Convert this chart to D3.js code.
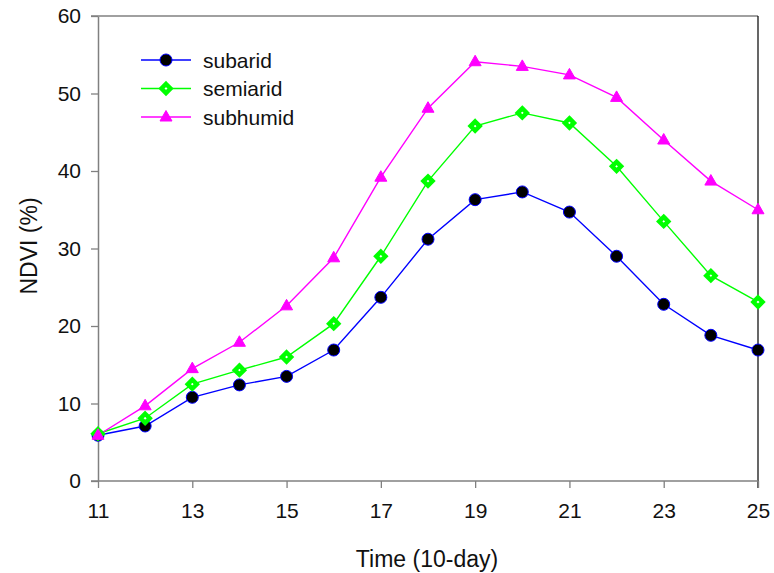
<!DOCTYPE html>
<html>
<head>
<meta charset="utf-8">
<script src="https://cdn.jsdelivr.net/npm/d3@7"></script>
<style>
  body { margin: 0; background: #fff; }
  text { font-family: "Liberation Sans", Arial, sans-serif; fill: #111; }
</style>
</head>
<body>
<div id="chart"></div>
<script>
var periods = [11, 12, 13, 14, 15, 16, 17, 18, 19, 20, 21, 22, 23, 24, 25];
var subarid = [5.9, 7.1, 10.8, 12.4, 13.5, 16.9, 23.7, 31.2, 36.3, 37.3, 34.7, 29.0, 22.8, 18.8, 16.9];
var semiarid = [6.1, 8.1, 12.5, 14.3, 16.0, 20.3, 29.0, 38.7, 45.8, 47.5, 46.2, 40.6, 33.5, 26.5, 23.1];
var subhumid = [5.9, 9.7, 14.5, 17.9, 22.6, 28.8, 39.2, 48.1, 54.1, 53.5, 52.4, 49.5, 44.0, 38.7, 35.0];
var xTicks = [11, 13, 15, 17, 19, 21, 23, 25];
var yTicks = [0, 10, 20, 30, 40, 50, 60];

var series = [
  {name: "subarid", values: subarid, color: "#0000ff", marker: "circle"},
  {name: "semiarid", values: semiarid, color: "#00ff00", marker: "diamond"},
  {name: "subhumid", values: subhumid, color: "#ff00ff", marker: "triangle"}
];

var width = 774, height = 573;
var margin = {top: 16, right: 16, bottom: 92, left: 98};
var chartWidth = width - margin.left - margin.right;
var chartHeight = height - margin.top - margin.bottom;

var svg = d3.select("#chart").append("svg")
    .attr("width", width)
    .attr("height", height)
  .append("g")
    .attr("transform", `translate(${margin.left}, ${margin.top})`);

var xScale = d3.scaleLinear().domain([11, 25]).range([0, chartWidth]);
var yScale = d3.scaleLinear().domain([0, 60]).range([chartHeight, 0]);

// frame: top gray, right black
svg.append("line")
    .attr("x1", -7).attr("x2", chartWidth).attr("y1", 0).attr("y2", 0)
    .attr("stroke", "#808080").attr("stroke-width", 1.5);
svg.append("line")
    .attr("x1", chartWidth).attr("x2", chartWidth).attr("y1", 0).attr("y2", chartHeight + 7)
    .attr("stroke", "#000").attr("stroke-width", 1.2);

var xAxis = d3.axisBottom(xScale).tickValues(xTicks).tickSize(7).tickSizeOuter(0).tickPadding(15);
var yAxis = d3.axisLeft(yScale).tickValues(yTicks).tickSize(7).tickSizeOuter(0).tickPadding(10);

var gx = svg.append("g")
    .attr("class", "x axis")
    .attr("transform", `translate(0,${chartHeight})`)
    .call(xAxis);
var gy = svg.append("g")
    .attr("class", "y axis")
    .call(yAxis);

[gx, gy].forEach(function(g) {
  g.select(".domain").attr("stroke", "#808080").attr("stroke-width", 1.5);
  g.selectAll(".tick line").attr("stroke", "#808080").attr("stroke-width", 1.3);
  g.selectAll(".tick text").attr("font-size", 21).attr("fill", "#111")
    .style("font-family", '"Liberation Sans", Arial, sans-serif');
});
gx.select(".domain").attr("d", `M-7,0H${chartWidth}`);

svg.append("text")
    .attr("x", 427 - margin.left)
    .attr("y", 567 - margin.top)
    .attr("text-anchor", "middle")
    .attr("font-size", 23)
    .text("Time (10-day)");

svg.append("text")
    .attr("transform", `translate(${37 - margin.left}, ${246 - margin.top}) rotate(-90)`)
    .attr("text-anchor", "middle")
    .attr("font-size", 23)
    .text("NDVI (%)");

function drawMarker(g, type, color) {
  if (type === "circle") {
    g.append("circle").attr("r", 6).attr("fill", "#000")
      .attr("stroke", color).attr("stroke-width", 1);
  } else if (type === "diamond") {
    g.append("path").attr("d", "M0,-4.5L4.5,0L0,4.5L-4.5,0Z")
      .attr("fill", "#fff").attr("stroke", color).attr("stroke-width", 4.5);
  } else {
    g.append("path").attr("d", "M0,-6.5L6,4L-6,4Z")
      .attr("fill", color).attr("stroke", color).attr("stroke-width", 1);
  }
}

var line = d3.line()
    .x((d, i) => xScale(periods[i]))
    .y(d => yScale(d));

series.forEach(function(s) {
  svg.append("path")
      .datum(s.values)
      .attr("fill", "none")
      .attr("stroke", s.color)
      .attr("stroke-width", 1.4)
      .attr("d", line);
});

series.forEach(function(s) {
  s.values.forEach(function(v, i) {
    var g = svg.append("g")
        .attr("transform", `translate(${xScale(periods[i])}, ${yScale(v)})`);
    drawMarker(g, s.marker, s.color);
  });
});

// legend
var legend = svg.append("g")
    .attr("transform", `translate(${141 - margin.left}, ${60 - margin.top})`);
series.forEach(function(s, i) {
  var row = legend.append("g").attr("transform", `translate(0, ${i * 28.5})`);
  row.append("line").attr("x1", 0).attr("x2", 50).attr("y1", 0).attr("y2", 0)
    .attr("stroke", s.color).attr("stroke-width", 1.4);
  var m = row.append("g").attr("transform", "translate(25,0)");
  drawMarker(m, s.marker, s.color);
  row.append("text").attr("x", 62).attr("y", 7.5).attr("font-size", 21).text(s.name);
});
</script>
</body>
</html>
